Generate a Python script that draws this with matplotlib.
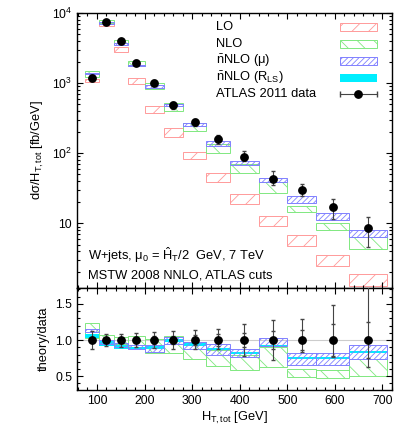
import numpy as np
import matplotlib
matplotlib.use('Agg')
import matplotlib.pyplot as plt
from matplotlib.patches import Rectangle
from matplotlib.ticker import MultipleLocator, LogLocator, NullFormatter, FixedLocator, FixedFormatter

plt.rcParams['font.family'] = ['Liberation Sans', 'DejaVu Sans']
plt.rcParams['mathtext.fontset'] = 'custom'
plt.rcParams['mathtext.rm'] = 'Liberation Sans'
plt.rcParams['mathtext.it'] = 'Liberation Sans:italic'
plt.rcParams['mathtext.bf'] = 'Liberation Sans:bold'
plt.rcParams['mathtext.sf'] = 'Liberation Sans'
plt.rcParams['hatch.linewidth'] = 0.6

# --- bins and ATLAS data ---
bin_lo = [75, 105, 135, 165, 200, 240, 280, 330, 380, 440, 500, 560, 630]
bin_hi = [105, 135, 165, 200, 240, 280, 330, 380, 440, 500, 560, 630, 710]
ht_pts = [90, 120, 150, 182, 220, 260, 305, 355, 410, 470, 530, 595, 670]
data = [1200, 7430, 3930, 1970, 1000, 490, 277, 158, 89, 43, 30, 17, 8.7]
data_err_up = [120, 500, 300, 180, 100, 55, 35, 22, 19, 12, 6, 5.5, 3.8]
data_err_dn = [120, 500, 300, 180, 100, 55, 35, 22, 12, 7.5, 5.5, 5.5, 4.1]

# ratio panel errors (relative)
ratio_err_up = [0.13, 0.08, 0.09, 0.10, 0.11, 0.13, 0.14, 0.15, 0.22, 0.28, 0.29, 0.49, 0.80]
ratio_err_dn = [0.12, 0.08, 0.09, 0.10, 0.11, 0.13, 0.12, 0.13, 0.22, 0.28, 0.16, 0.23, 0.37]
ratio_stat = [0.03, 0.03, 0.03, 0.04, 0.05, 0.06, 0.07, 0.08, 0.10, 0.13, 0.14, 0.22, 0.25]

# --- LO band [fb/GeV] ---
lo_low = [1030, 6600, 2750, 970, 380, 172, 82, 39, 19, 9.2, 4.8, 2.5, 1.3]
lo_high = [1150, 7100, 3300, 1180, 480, 232, 105, 53, 26, 12.8, 6.8, 3.6, 1.87]

# --- theory / data ---
nlo_low = [1.03, 0.97, 0.95, 0.90, 0.82, 0.82, 0.74, 0.64, 0.59, 0.63, 0.49, 0.48, 0.50]
nlo_high = [1.24, 1.07, 1.04, 1.05, 1.02, 1.06, 0.98, 0.86, 0.80, 0.91, 0.60, 0.59, 0.74]
mu_low = [1.11, 0.94, 0.90, 0.88, 0.84, 0.95, 0.87, 0.80, 0.76, 0.92, 0.66, 0.66, 0.74]
mu_high = [1.16, 1.00, 0.96, 0.93, 0.93, 1.04, 0.97, 0.94, 0.88, 1.03, 0.82, 0.82, 0.93]
rls_low = [1.03, 0.92, 0.88, 0.87, 0.88, 0.97, 0.92, 0.86, 0.81, 0.90, 0.74, 0.74, 0.82]
rls_high = [1.09, 1.00, 0.93, 0.91, 0.92, 1.01, 0.96, 0.89, 0.84, 0.93, 0.77, 0.77, 0.85]

RED = '#ff9a9a'
GREEN = '#80e880'
BLUE = '#8080ff'
CYAN = '#00eeff'
FS = 9.3

lo_e = np.array(bin_lo)
widths = np.array(bin_hi) - lo_e
data_a = np.array(data)


def boxes(ax, low, high, **kw):
    low = np.array(low)
    high = np.array(high)
    ax.bar(lo_e, high - low, bottom=low, width=widths, align='edge', **kw)


fig = plt.figure(figsize=(4.15, 4.34), dpi=100)
ax1 = fig.add_axes([0.1855, 0.3364, 0.7591, 0.6336])
ax2 = fig.add_axes([0.1855, 0.1014, 0.7591, 0.2350])

# --- upper panel ---
boxes(ax1, lo_low, lo_high, fill=False, edgecolor=RED, hatch='//', linewidth=0.7)
boxes(ax1, np.array(nlo_low) * data_a, np.array(nlo_high) * data_a,
      fill=False, edgecolor=GREEN, hatch='\\\\', linewidth=0.7)
boxes(ax1, np.array(mu_low) * data_a, np.array(mu_high) * data_a,
      fill=False, edgecolor=BLUE, hatch='//////', linewidth=0.7)
ax1.errorbar(ht_pts, data, yerr=[data_err_dn, data_err_up], fmt='o', color='black',
             ecolor='#444444', elinewidth=0.8, capsize=1.5, markersize=5.3, zorder=5)

ax1.set_yscale('log')
ax1.set_ylim(1.2, 1e4)
ax1.set_xlim(58, 720)
ax1.yaxis.set_major_locator(FixedLocator([10, 100, 1000, 10000]))
ax1.yaxis.set_major_formatter(FixedFormatter(['10', r'10$^2$', r'10$^3$', r'10$^4$']))
ax1.yaxis.set_minor_locator(LogLocator(base=10, subs=np.arange(2, 10)))
ax1.yaxis.set_minor_formatter(NullFormatter())
ax1.set_xticklabels([])
ax1.set_ylabel(r'dσ/H$_{\mathrm{T,tot}}$ [fb/GeV]', fontsize=FS)

# legend drawn by hand, gnuplot style (text left, key right)
leg_labels = ['LO', 'NLO', r'$\bar{\mathrm{n}}$NLO (μ)', r'$\bar{\mathrm{n}}$NLO (R$_{\mathrm{LS}}$)', 'ATLAS 2011 data']
leg_y = [0.949, 0.887, 0.825, 0.765, 0.704]
for lab, yy in zip(leg_labels, leg_y):
    ax1.text(0.441, yy, lab, transform=ax1.transAxes, fontsize=FS, va='center', ha='left')
ax1.add_patch(Rectangle((0.835, leg_y[0] - 0.015), 0.117, 0.03, transform=ax1.transAxes,
                        fill=False, edgecolor=RED, hatch='//', linewidth=0.7))
ax1.add_patch(Rectangle((0.835, leg_y[1] - 0.015), 0.117, 0.03, transform=ax1.transAxes,
                        fill=False, edgecolor=GREEN, hatch='\\\\', linewidth=0.7))
ax1.add_patch(Rectangle((0.835, leg_y[2] - 0.015), 0.117, 0.03, transform=ax1.transAxes,
                        fill=False, edgecolor=BLUE, hatch='//////', linewidth=0.7))
ax1.add_patch(Rectangle((0.835, leg_y[3] - 0.015), 0.117, 0.03, transform=ax1.transAxes,
                        facecolor=CYAN, edgecolor='none'))
ax1.plot([0.835, 0.952], [leg_y[4], leg_y[4]], transform=ax1.transAxes, color='#444444', lw=0.8)
ax1.plot([0.835, 0.952], [leg_y[4], leg_y[4]], transform=ax1.transAxes, color='#444444',
         lw=0, marker='|', markersize=4)
ax1.plot([0.8935], [leg_y[4]], transform=ax1.transAxes, color='black', marker='o', markersize=5.3)

ax1.text(0.035, 0.12, r'W+jets, μ$_0$ = $\hat{\mathrm{H}}_{\mathrm{T}}$/2  GeV, 7 TeV',
         transform=ax1.transAxes, fontsize=FS, va='center')
ax1.text(0.035, 0.047, 'MSTW 2008 NNLO, ATLAS cuts', transform=ax1.transAxes, fontsize=FS, va='center')

# --- lower panel (ratio) ---
ax2.axhline(1.0, color='#cccccc', lw=0.8, zorder=0)
boxes(ax2, nlo_low, nlo_high, fill=False, edgecolor=GREEN, hatch='\\\\', linewidth=0.7)
boxes(ax2, rls_low, rls_high, color=CYAN, edgecolor='none', linewidth=0)
boxes(ax2, mu_low, mu_high, fill=False, edgecolor=BLUE, hatch='//////', linewidth=0.7)
ones = np.ones(len(ht_pts))
ax2.errorbar(ht_pts, ones, yerr=[ratio_err_dn, ratio_err_up], fmt='o', color='black',
             ecolor='#444444', elinewidth=0.8, capsize=1.5, markersize=5.3, zorder=5)
ax2.errorbar(ht_pts, ones, yerr=ratio_stat, fmt='none', ecolor='#444444',
             elinewidth=0, capsize=1.5, zorder=5)

ax2.set_xlim(58, 720)
ax2.set_ylim(0.31, 1.72)
ax2.yaxis.set_major_locator(MultipleLocator(0.5))
ax2.yaxis.set_minor_locator(MultipleLocator(0.1))
ax2.yaxis.set_major_formatter(plt.FuncFormatter(lambda v, p: f'{v:.1f}'))
ax2.set_ylabel('theory/data', fontsize=FS)
ax2.set_xlabel(r'H$_{\mathrm{T,tot}}$ [GeV]', fontsize=FS, labelpad=2)

for ax in (ax1, ax2):
    ax.xaxis.set_major_locator(MultipleLocator(100))
    ax.xaxis.set_minor_locator(MultipleLocator(20))
    ax.tick_params(which='both', direction='in', top=True, right=True, labelsize=8.8)
    ax.tick_params(which='major', length=4.5, width=0.8)
    ax.tick_params(which='minor', length=2.2, width=0.8)
    for s in ax.spines.values():
        s.set_linewidth(1.0)

fig.savefig('out.png', dpi=100)
